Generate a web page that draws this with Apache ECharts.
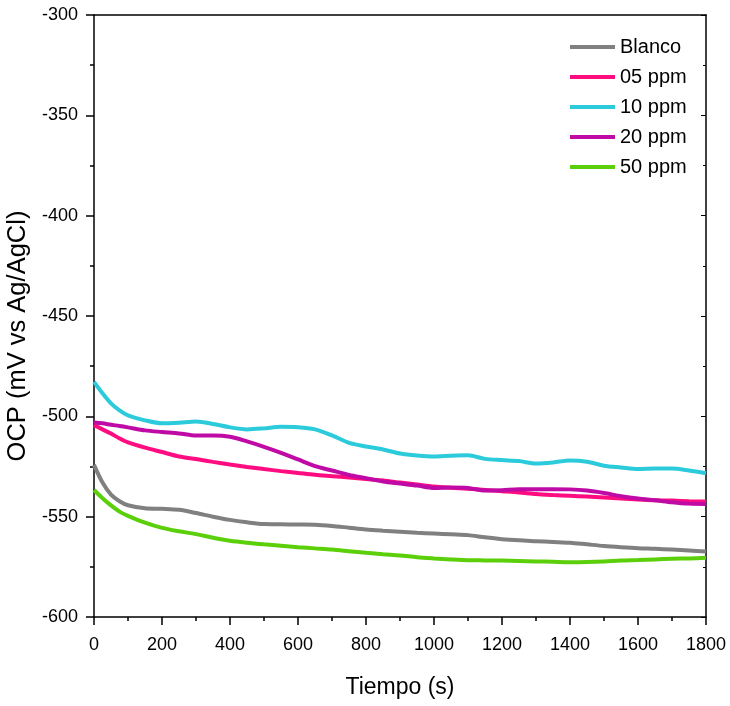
<!DOCTYPE html>
<html lang="es" style="height: 100%">
<head>
<meta charset="utf-8">
<title>OCP vs Tiempo</title>
</head>
<body style="height: 100%; margin: 0">
<div id="container" style="height: 100%"></div>

<script type="text/javascript" src="https://cdn.jsdelivr.net/npm/echarts/dist/echarts.min.js"></script>

<script type="text/javascript">

var tiempo = [0, 25, 50, 75, 100, 150, 200, 250, 300, 350, 400, 450, 500, 550, 600, 650, 700,
  750, 800, 850, 900, 950, 1000, 1050, 1100, 1150, 1200, 1250, 1300, 1350, 1400, 1450, 1500,
  1550, 1600, 1650, 1700, 1750, 1800];

var blanco = [-524.2, -533.0, -539.0, -542.3, -544.3, -545.8, -546.1, -546.6, -548.2, -550.0,
  -551.6, -552.8, -553.7, -553.8, -553.9, -554.0, -554.6, -555.5, -556.4, -557.0, -557.5,
  -558.0, -558.4, -558.8, -559.2, -560.3, -561.2, -561.8, -562.2, -562.6, -563.0, -563.8,
  -564.6, -565.2, -565.7, -566.0, -566.4, -566.9, -567.4];

var ppm05 = [-504.3, -506.5, -508.6, -511.0, -513.0, -515.6, -517.8, -520.0, -521.3, -522.7,
  -524.0, -525.2, -526.3, -527.3, -528.2, -529.1, -529.8, -530.5, -531.2, -532.0, -533.0,
  -534.0, -535.0, -535.6, -536.1, -536.7, -537.3, -537.9, -538.7, -539.2, -539.6, -540.0,
  -540.5, -541.0, -541.4, -541.8, -542.0, -542.3, -542.5];

var ppm10 = [-482.8, -488.5, -493.5, -497.0, -499.5, -502.0, -503.5, -503.2, -502.6, -503.8,
  -505.5, -506.5, -506.0, -505.2, -505.4, -506.5, -509.5, -513.2, -515.0, -516.5, -518.5,
  -519.5, -520.0, -519.6, -519.4, -521.2, -521.8, -522.3, -523.5, -523.0, -522.0, -522.6,
  -524.6, -525.5, -526.3, -526.0, -526.0, -527.0, -528.4];

var ppm20 = [-503.1, -503.5, -504.2, -504.8, -505.5, -507.0, -507.8, -508.5, -509.6, -509.6,
  -510.2, -512.5, -515.2, -518.2, -521.5, -524.8, -527.0, -529.2, -530.8, -532.5, -533.5,
  -534.5, -535.7, -535.5, -535.7, -537.0, -536.8, -536.3, -536.3, -536.3, -536.4, -537.0,
  -538.2, -539.8, -541.0, -541.8, -542.8, -543.5, -543.7];

var ppm50 = [-536.7, -540.8, -544.4, -547.5, -549.6, -553.0, -555.6, -557.3, -558.7, -560.5,
  -562.0, -563.0, -563.8, -564.5, -565.2, -565.8, -566.4, -567.2, -568.0, -568.7, -569.3,
  -570.2, -570.8, -571.3, -571.7, -571.8, -571.9, -572.1, -572.3, -572.5, -572.7, -572.6,
  -572.3, -571.8, -571.6, -571.3, -571.0, -570.8, -570.5];

var nombres = ['Blanco', '05 ppm', '10 ppm', '20 ppm', '50 ppm'];
var colores = ['#808080', '#ff0d80', '#2bcbdb', '#bf0aa5', '#5bd00a'];
var valores = [blanco, ppm05, ppm10, ppm20, ppm50];

var dom = document.getElementById('container');
var myChart = echarts.init(dom, null, {width: 730, height: 706});

var fuente = 'Liberation Sans, Arial, sans-serif';

function pares(v) {
  return tiempo.map(function (t, i) { return [t, v[i]]; });
}

var option = {
  animation: false,
  textStyle: {fontFamily: fuente},
  grid: {left: 94, right: 24, top: 15, bottom: 89, outerBoundsMode: 'none'},
  legend: {
    orient: 'vertical',
    left: 565,
    top: 32,
    icon: 'rect',
    itemWidth: 45,
    itemHeight: 4,
    itemGap: 10,
    textStyle: {fontSize: 20, color: '#000', fontFamily: fuente},
    data: nombres
  },
  xAxis: [{
    type: 'value',
    min: 0,
    max: 1800,
    interval: 200,
    name: 'Tiempo (s)',
    nameLocation: 'middle',
    nameGap: 59,
    nameTextStyle: {fontSize: 23, color: '#000'},
    axisLine: {show: true, onZero: false, lineStyle: {color: '#000', width: 1.5}},
    axisTick: {show: true, length: 8, lineStyle: {color: '#000', width: 1.5}},
    minorTick: {show: true, splitNumber: 2, length: 4, lineStyle: {color: '#000', width: 1.5}},
    axisLabel: {fontSize: 18, color: '#000', margin: 19, formatter: function (v) { return String(v); }},
    splitLine: {show: false}
  }, {
    type: 'value',
    position: 'top',
    min: 0,
    max: 1800,
    interval: 200,
    axisLine: {show: true, onZero: false, lineStyle: {color: '#000', width: 1.5}},
    axisTick: {show: false},
    axisLabel: {show: false},
    splitLine: {show: false}
  }],
  yAxis: [{
    type: 'value',
    min: -600,
    max: -300,
    interval: 50,
    name: 'OCP (mV vs Ag/AgCl)',
    nameLocation: 'middle',
    nameGap: 61,
    nameTextStyle: {fontSize: 25.5, color: '#000', padding: [0, 40, 0, 0]},
    axisLine: {show: true, onZero: false, lineStyle: {color: '#000', width: 1.5}},
    axisTick: {show: true, length: 8, lineStyle: {color: '#000', width: 1.5}},
    minorTick: {show: true, splitNumber: 2, length: 4, lineStyle: {color: '#000', width: 1.5}},
    axisLabel: {fontSize: 18, color: '#000', margin: 16},
    splitLine: {show: false}
  }, {
    type: 'value',
    position: 'right',
    min: -600,
    max: -300,
    interval: 50,
    axisLine: {show: true, onZero: false, lineStyle: {color: '#000', width: 1.5}},
    axisTick: {show: true, inside: true, length: 5, lineStyle: {color: '#000', width: 1}},
    minorTick: {show: true, splitNumber: 2, length: 3, lineStyle: {color: '#000', width: 1}},
    axisLabel: {show: false},
    splitLine: {show: false}
  }],
  series: nombres.map(function (n, i) {
    return {
      name: n,
      type: 'line',
      smooth: 0.3,
      showSymbol: false,
      symbol: 'none',
      color: colores[i],
      lineStyle: {width: 4, color: colores[i]},
      data: pares(valores[i])
    };
  })
};

myChart.setOption(option);

window.addEventListener('resize', myChart.resize);
</script>
</body>
</html>
